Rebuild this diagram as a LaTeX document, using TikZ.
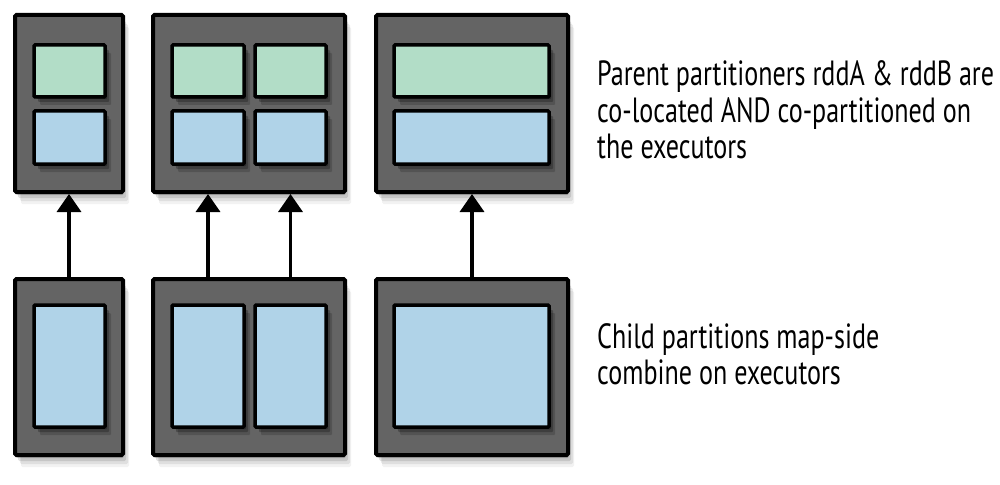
\documentclass[tikz,border=0pt]{standalone}
\usepackage{fontspec}
\setmainfont[FakeStretch=0.745]{PT Sans}
\usetikzlibrary{arrows.meta}
\definecolor{exgrey}{HTML}{646464}
\definecolor{pgreen}{HTML}{B2DDC7}
\definecolor{pblue}{HTML}{B0D3E8}
\begin{document}
\begin{tikzpicture}[x=1pt,y=-1pt,
  exec/.style={draw=black,line width=4pt,fill=exgrey,rounded corners=1.5pt,inner sep=0pt,
    preaction={fill=black,fill opacity=.14,transform canvas={xshift=1pt,yshift=-3pt}},
    preaction={fill=black,fill opacity=.11,transform canvas={xshift=3pt,yshift=-6pt}},
    preaction={fill=black,fill opacity=.08,transform canvas={xshift=5pt,yshift=-9pt}},
    preaction={fill=black,fill opacity=.05,transform canvas={xshift=6pt,yshift=-12pt}}},
  part/.style={draw=black,line width=3.5pt,rounded corners=1pt,inner sep=0pt,
    preaction={fill=black,fill opacity=.35,transform canvas={xshift=2pt,yshift=-2pt}},
    preaction={fill=black,fill opacity=.25,transform canvas={xshift=4pt,yshift=-5pt}},
    preaction={fill=black,fill opacity=.16,transform canvas={xshift=6pt,yshift=-8pt}}},
  gpart/.style={part,fill=pgreen},
  bpart/.style={part,fill=pblue},
  arr/.style={line width=3.5pt,-{Triangle[length=18pt,width=24pt]}},
  txt/.style={anchor=base west,inner sep=0pt,font=\fontsize{35}{36}\selectfont}]
\useasboundingbox[fill=white] (0,0) rectangle (1000,484);
% top executors
\node[exec,minimum width=108pt,minimum height=177pt] (T1) at (69,103.5) {};
\node[exec,minimum width=192pt,minimum height=177pt] (T2) at (249,103.5) {};
\node[exec,minimum width=192pt,minimum height=177pt] (T3) at (472,103.5) {};
% bottom executors
\node[exec,minimum width=108pt,minimum height=176pt] (B1) at (69,367) {};
\node[exec,minimum width=192pt,minimum height=176pt] (B2) at (249,367) {};
\node[exec,minimum width=192pt,minimum height=176pt] (B3) at (472,367) {};
% top partitions
\node[gpart,minimum width=71pt,minimum height=52pt] (g1) at (69.5,71) {};
\node[bpart,minimum width=71pt,minimum height=53pt] (b1) at (69.5,137.5) {};
\node[gpart,minimum width=72pt,minimum height=52pt] (g2) at (208,71) {};
\node[bpart,minimum width=72pt,minimum height=53pt] (b2) at (208,137.5) {};
\node[gpart,minimum width=71pt,minimum height=52pt] (g3) at (290.5,71) {};
\node[bpart,minimum width=71pt,minimum height=53pt] (b3) at (290.5,137.5) {};
\node[gpart,minimum width=155pt,minimum height=52pt] (g4) at (471.5,71) {};
\node[bpart,minimum width=155pt,minimum height=53pt] (b4) at (471.5,137.5) {};
% bottom partitions
\node[bpart,minimum width=71pt,minimum height=122pt] (c1) at (69.5,366) {};
\node[bpart,minimum width=72pt,minimum height=122pt] (c2) at (208,366) {};
\node[bpart,minimum width=71pt,minimum height=122pt] (c3) at (290.5,366) {};
\node[bpart,minimum width=155pt,minimum height=122pt] (c4) at (471.5,366) {};
% arrows
\draw[arr] (B1.north) -- (T1.south);
\draw[arr] (B2.north -| c2.center) -- (T2.south -| c2.center);
\draw[arr] (B2.north -| c3.center) -- (T2.south -| c3.center);
\draw[arr] (B3.north) -- (T3.south);
% labels
\node[txt] (p1) at (597,86) {Parent partitioners rddA \& rddB are};
\node[txt] (p2) at (597,122) {co-located AND co-partitioned on};
\node[txt] (p3) at (597,158) {the executors};
\node[txt] (q1) at (597,348) {Child partitions map-side};
\node[txt] (q2) at (597,384) {combine on executors};
\end{tikzpicture}
\end{document}
